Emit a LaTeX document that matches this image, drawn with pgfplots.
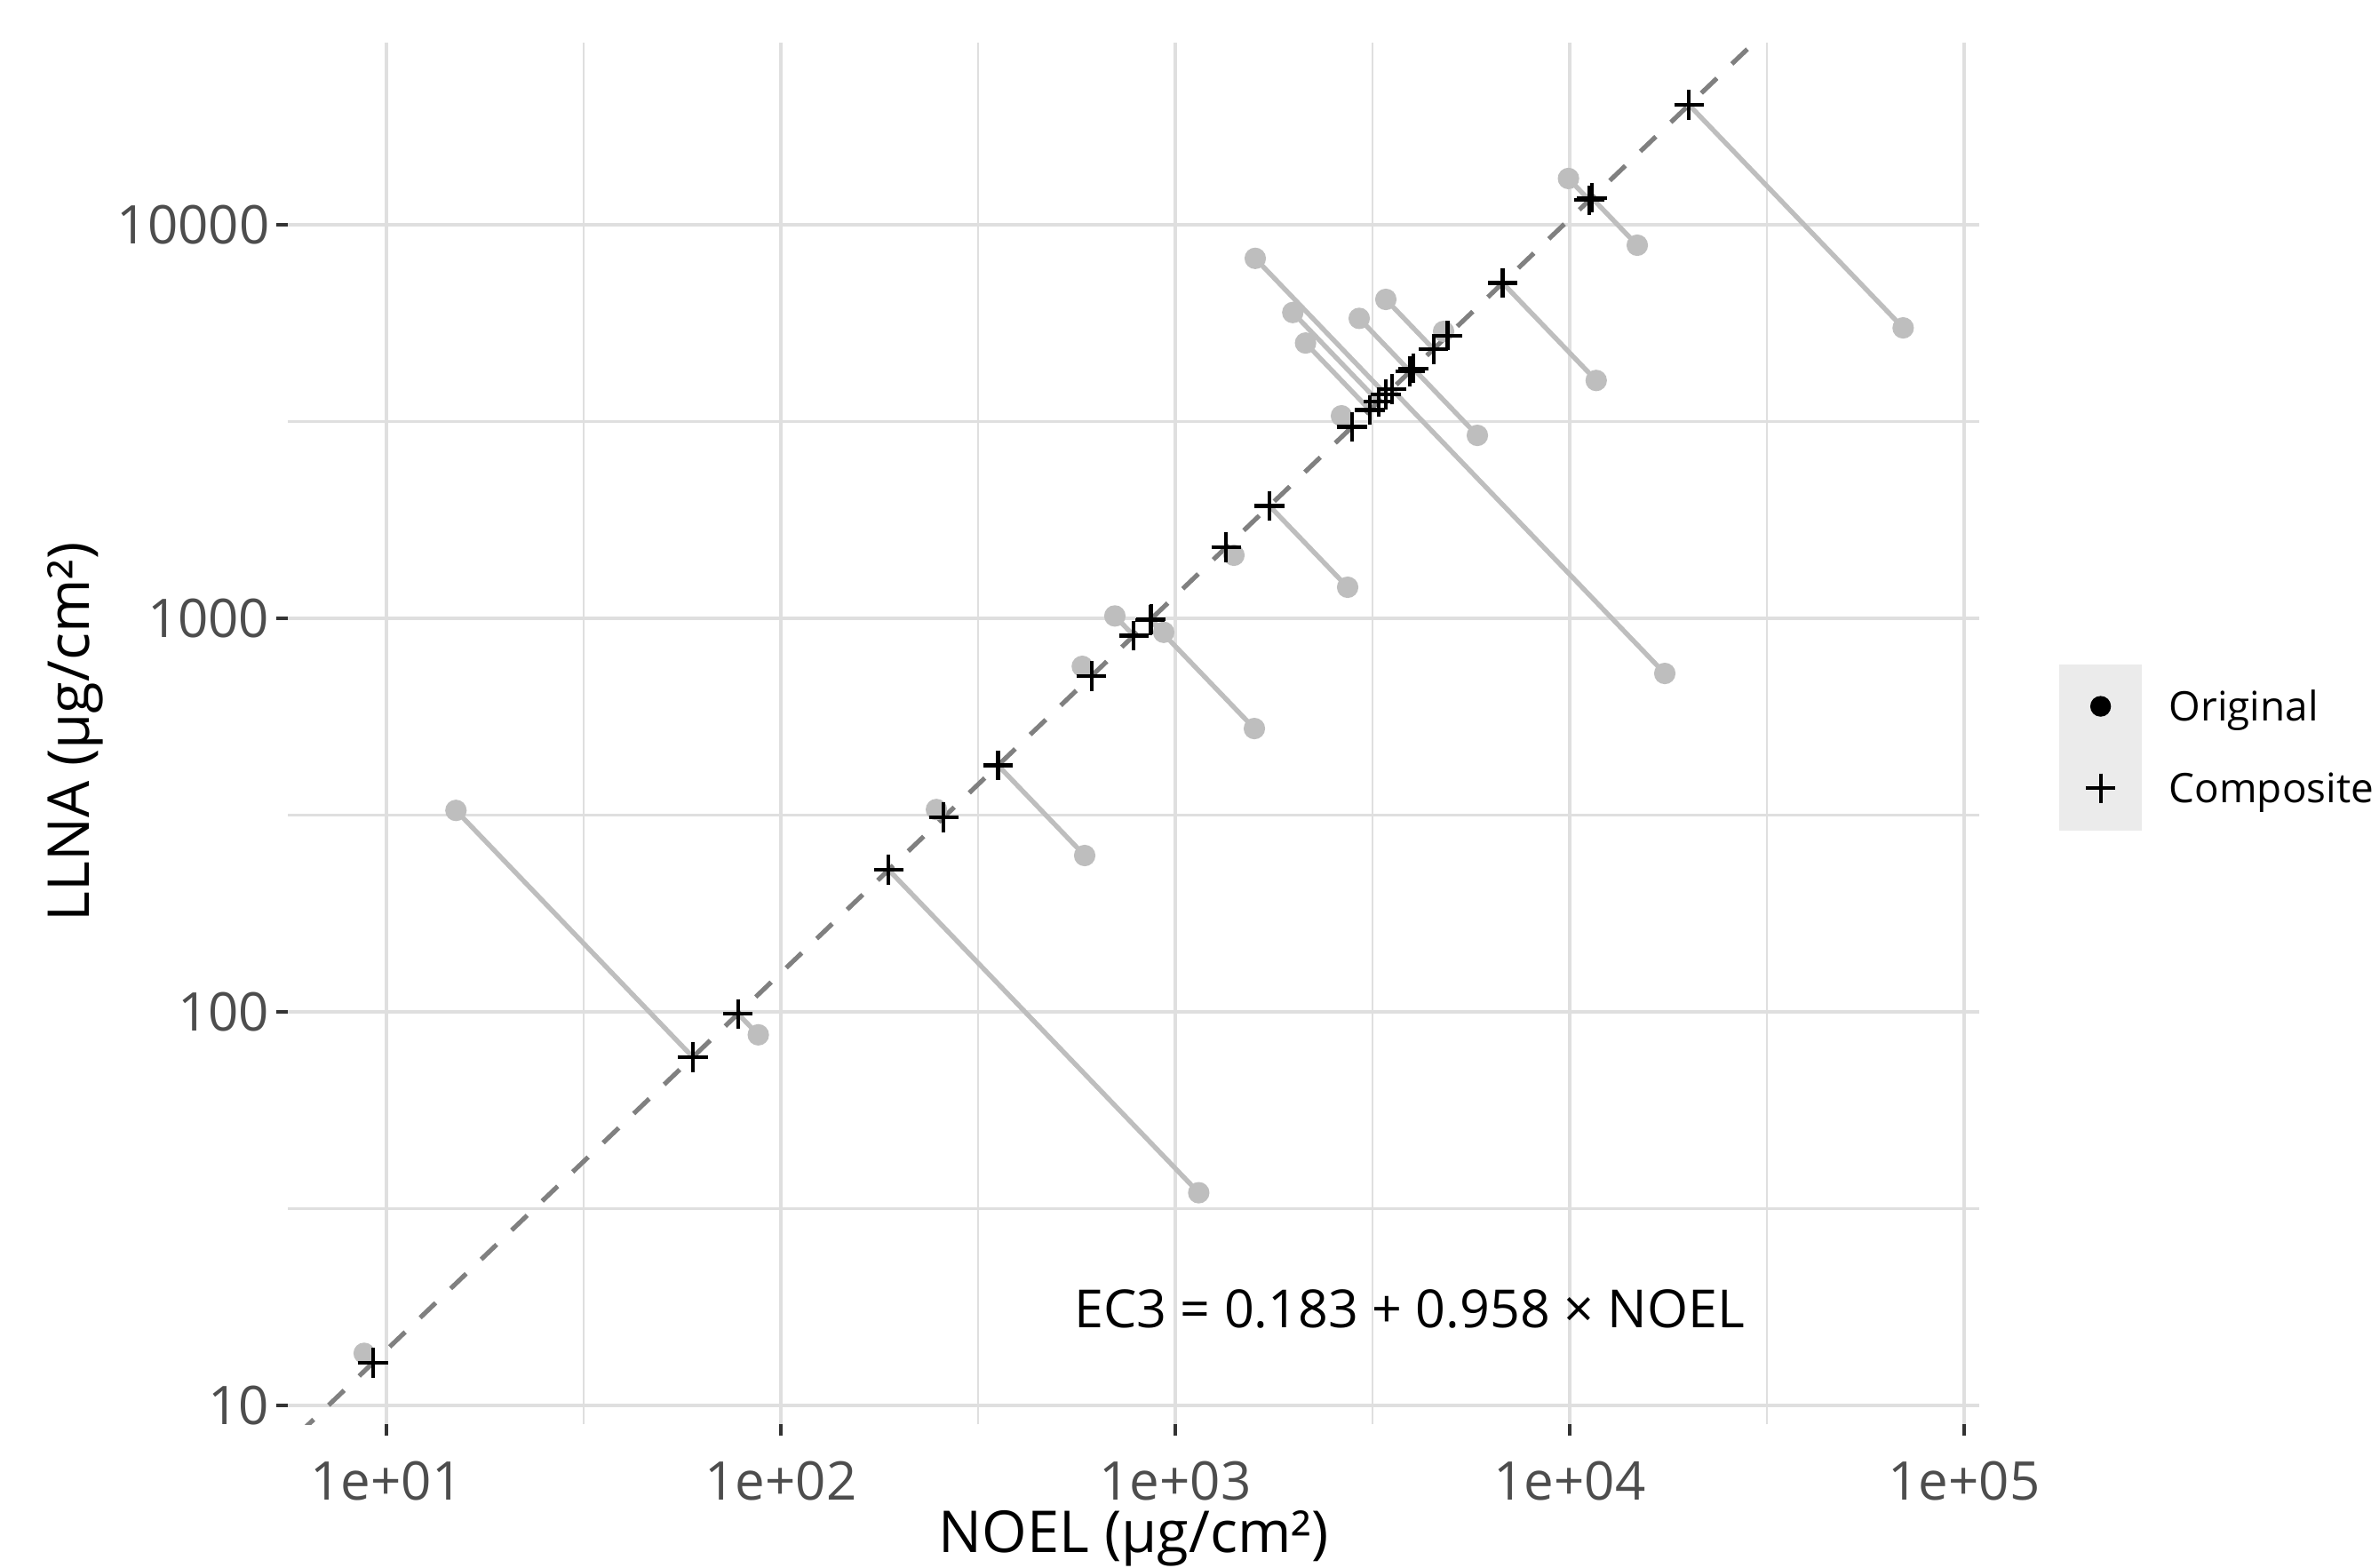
\documentclass[border=0pt]{standalone}
\usepackage{pgfplots}
\pgfplotsset{compat=1.18}
\usepackage{fontspec}
\setmainfont{Open Sans}
\definecolor{gridc}{HTML}{DFDFDF}
\definecolor{ptgrey}{HTML}{BEBEBE}
\definecolor{tickt}{HTML}{4D4D4D}
\definecolor{tickd}{HTML}{333333}
\definecolor{abl}{HTML}{808080}
\definecolor{legbg}{HTML}{EBEBEB}
\begin{document}
\begin{tikzpicture}
\useasboundingbox (-77.88pt,-38.64pt) rectangle (564.84pt,384.72pt);
\fill[legbg] (478.5pt,160.3pt) rectangle (500.7pt,205.3pt);
\begin{axis}[
  at={(0pt,0pt)}, anchor=south west,
  scale only axis, width=456.84pt, height=373.2pt,
  xmode=log, ymode=log,
  xmin=5.64, xmax=109200, ymin=8.97, ymax=29030,
  axis line style={draw=none},
  xtick={10,100,1000,10000,100000},
  xticklabels={1e+01,1e+02,1e+03,1e+04,1e+05},
  ytick={10,100,1000,10000},
  yticklabels={10,100,1000,10000},
  minor xtick={31.6228,316.228,3162.28,31622.8},
  minor ytick={31.6228,316.228,3162.28},
  xmajorgrids=true, ymajorgrids=true, xminorgrids=true, yminorgrids=true,
  major grid style={draw=gridc, line width=1.15pt},
  minor grid style={draw=gridc, line width=0.55pt},
  tick align=outside, xtick pos=lower, ytick pos=left,
  major tick length=3.2pt, minor tick length=0pt,
  major tick style={draw=tickd, line width=0.9pt},
  ticklabel style={font=\fontsize{14.4}{17}\selectfont, text=tickt, inner sep=0pt},
  xticklabel style={anchor=base, yshift=-17.4pt},
  yticklabel style={anchor=east, xshift=-1.7pt},
  xlabel={NOEL (µg/cm²)}, ylabel={LLNA (µg/cm²)},
  label style={font=\fontsize{15.6}{18}\selectfont, inner sep=0pt},
  xlabel style={at={(axis description cs:0.5,-0.0927)}, anchor=base},
  ylabel style={at={(axis description cs:-0.1178,0.501)}, anchor=base, rotate=0},
  legend image code/.code={\draw[#1] plot coordinates {(0pt,4pt)};},
  legend cell align=left,
  legend style={draw=none, fill=none, at={(1.0630,0.5308)}, anchor=north west,
    inner sep=0pt, outer sep=0pt, font=\fontsize{11}{13}\selectfont,
    row sep=11.2pt,
    /tikz/every odd column/.append style={column sep=14.5pt},
    cells={anchor=base west},
    nodes={inner sep=0pt, text height=8.2pt, text depth=2.7pt}},
]
% segments from each original to its composite
\addplot[forget plot, draw=ptgrey, line width=1.3pt] coordinates {(8.784,13.57) (9.256,12.85)};
\addplot[forget plot, draw=ptgrey, line width=1.3pt] coordinates {(15.01,325.1) (59.82,76.77)};
\addplot[forget plot, draw=ptgrey, line width=1.3pt] coordinates {(87.67,87.47) (77.91,98.90)};
\addplot[forget plot, draw=ptgrey, line width=1.3pt] coordinates {(248.0,326.8) (258.9,312.4)};
\addplot[forget plot, draw=ptgrey, line width=1.3pt] coordinates {(1146.6,34.72) (187.7,229.6)};
\addplot[forget plot, draw=ptgrey, line width=1.3pt] coordinates {(589.3,249.7) (355.4,423.1)};
\addplot[forget plot, draw=ptgrey, line width=1.3pt] coordinates {(581.1,755.2) (613.5,713.8)};
\addplot[forget plot, draw=ptgrey, line width=1.3pt] coordinates {(702.8,1014.1) (784.8,903.8)};
\addplot[forget plot, draw=ptgrey, line width=1.3pt] coordinates {(934.8,921.6) (868.1,995.6)};
\addplot[forget plot, draw=ptgrey, line width=1.3pt] coordinates {(1586.8,524.9) (863.4,990.6)};
\addplot[forget plot, draw=ptgrey, line width=1.3pt] coordinates {(1408.2,1446.6) (1346.4,1516.2)};
\addplot[forget plot, draw=ptgrey, line width=1.3pt] coordinates {(2735,1199.5) (1733.5,1931)};
\addplot[forget plot, draw=ptgrey, line width=1.3pt] coordinates {(1594.9,8217) (3420,3704)};
\addplot[forget plot, draw=ptgrey, line width=1.3pt] coordinates {(17418,724.5) (3537,3825)};
\addplot[forget plot, draw=ptgrey, line width=1.3pt] coordinates {(1986.1,5986) (3275,3552)};
\addplot[forget plot, draw=ptgrey, line width=1.3pt] coordinates {(2139.2,5007) (3113,3384)};
\addplot[forget plot, draw=ptgrey, line width=1.3pt] coordinates {(2637.7,3271) (2807,3065)};
\addplot[forget plot, draw=ptgrey, line width=1.3pt] coordinates {(2925.8,5784) (3939,4240)};
\addplot[forget plot, draw=ptgrey, line width=1.3pt] coordinates {(5832,2917) (4011,4313)};
\addplot[forget plot, draw=ptgrey, line width=1.3pt] coordinates {(3418,6463) (4515,4833)};
\addplot[forget plot, draw=ptgrey, line width=1.3pt] coordinates {(4788,5359) (4902,5229)};
\addplot[forget plot, draw=ptgrey, line width=1.3pt] coordinates {(11670,4022) (6760,7114)};
\addplot[forget plot, draw=ptgrey, line width=1.3pt] coordinates {(9926,13110) (11210,11550)};
\addplot[forget plot, draw=ptgrey, line width=1.3pt] coordinates {(14833,8873) (11373,11710)};
\addplot[forget plot, draw=ptgrey, line width=1.3pt] coordinates {(70030,5471) (20064,20170)};
% original points
\addplot[forget plot, only marks, mark=*, mark size=2.7pt, draw=ptgrey, fill=ptgrey] coordinates {
(8.784,13.57) (15.01,325.1) (87.67,87.47) (248.0,326.8) (1146.6,34.72) (589.3,249.7) (581.1,755.2)
(702.8,1014.1) (934.8,921.6) (1586.8,524.9) (1408.2,1446.6) (2735,1199.5) (1594.9,8217) (17418,724.5)
(1986.1,5986) (2139.2,5007) (2637.7,3271) (2925.8,5784) (5832,2917) (3418,6463) (4788,5359)
(11670,4022) (9926,13110) (14833,8873) (70030,5471)};
% fitted line
\addplot[forget plot, draw=abl, line width=1.25pt, dash pattern=on 5.8pt off 5.6pt] coordinates {(5,7.124) (40000,39060)};
% composite points
\addplot[forget plot, only marks, mark=+, mark size=4.0pt, draw=black, line width=1.0pt] coordinates {
(9.256,12.85) (59.82,76.77) (77.91,98.90) (258.9,312.4) (187.7,229.6) (355.4,423.1) (613.5,713.8)
(784.8,903.8) (868.1,995.6) (863.4,990.6) (1346.4,1516.2) (1733.5,1931) (3420,3704) (3537,3825)
(3275,3552) (3113,3384) (2807,3065) (3939,4240) (4011,4313) (4515,4833) (4902,5229)
(6760,7114) (11210,11550) (11373,11710) (20064,20170)};
\node[font=\fontsize{14.2}{17}\selectfont, inner sep=0pt, anchor=center] at (axis cs:3922,17.58) {EC3 = 0.183 + 0.958 × NOEL};
\addlegendimage{mark=*, mark size=2.6pt, draw=black, fill=black}
\addlegendentry{Original}
\addlegendimage{mark=+, mark size=4.0pt, draw=black, line width=0.9pt}
\addlegendentry{Composite}
\end{axis}
\end{tikzpicture}
\end{document}
